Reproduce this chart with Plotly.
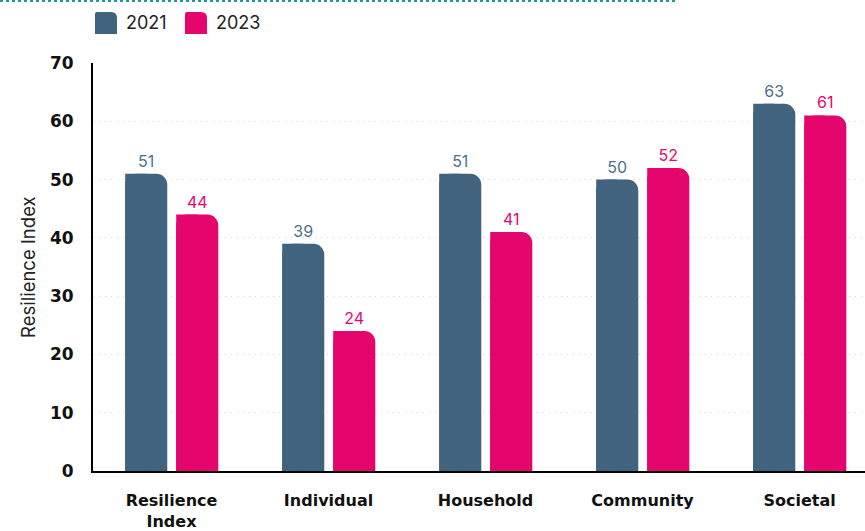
import plotly.graph_objects as go

# Resilience index by level, 2021 vs 2023
categories = ["Resilience<br>Index", "Individual", "Household", "Community", "Societal"]
values_2021 = [51, 39, 51, 50, 63]
values_2023 = [44, 24, 41, 52, 61]
series_names = ["2021", "2023"]
y_ticks = [0, 10, 20, 30, 40, 50, 60, 70]

BLUE = "#41637d"
BLUE_TEXT = "#4d6f8c"
PINK = "#e4066d"
FONT = "Inter, 'Noto Sans', sans-serif"
BOLD_FONT = "'DejaVu Sans', sans-serif"

BAR_W = 0.268
OFFSETS = [-0.295, 0.03]

fig = go.Figure()

for vals, name, color, tcolor, off in [
    (values_2021, series_names[0], BLUE, BLUE_TEXT, OFFSETS[0]),
    (values_2023, series_names[1], PINK, PINK, OFFSETS[1]),
]:
    # main bar with rounded top corners and value label
    fig.add_trace(go.Bar(
        x=categories, y=vals, name=name,
        width=BAR_W, offset=off,
        marker=dict(color=color, cornerradius=11, line=dict(width=0)),
        text=[str(v) for v in vals], textposition="outside",
        textfont=dict(color=tcolor, size=16, family=FONT),
        cliponaxis=False, showlegend=False,
    ))
    # square left half so only the top-right corner stays rounded
    fig.add_trace(go.Bar(
        x=categories, y=vals, name=name,
        width=BAR_W / 2, offset=off,
        marker=dict(color=color, cornerradius=0, line=dict(width=0)),
        showlegend=False, hoverinfo="skip",
    ))

shapes = []
annotations = []

def ypx(p):
    # convert a pixel row to paper y (plot spans rows 63..471)
    return (471 - p) / 408

def xpx(p):
    return (p - 93) / 772

# legend swatches and labels above the plot
for i, (name, color) in enumerate(zip(series_names, [BLUE, PINK])):
    x0 = 95 + i * 90
    x1 = x0 + 22
    y0, y1 = 12, 34
    r = 6
    path = (
        f"M {xpx(x0)},{ypx(y1)} L {xpx(x1)},{ypx(y1)} L {xpx(x1)},{ypx(y0 + r)} "
        f"Q {xpx(x1)},{ypx(y0)} {xpx(x1 - r)},{ypx(y0)} L {xpx(x0 + 2)},{ypx(y0)} "
        f"Q {xpx(x0)},{ypx(y0)} {xpx(x0)},{ypx(y0 + 2)} Z"
    )
    shapes.append(dict(type="path", path=path, xref="paper", yref="paper",
                       fillcolor=color, line=dict(width=0)))
    annotations.append(dict(x=xpx(x1 + 7), y=ypx(23), xref="paper", yref="paper",
                            text=name, showarrow=False, xanchor="left", yanchor="middle",
                            font=dict(size=18, color="#222222", family=FONT)))

# dotted teal rule across the top
shapes.append(dict(type="line", xref="paper", yref="paper",
                   x0=xpx(0), x1=xpx(677), y0=ypx(1), y1=ypx(1),
                   line=dict(color="#1c9aa0", width=2, dash="dot")))

annotations.append(dict(x=xpx(28), y=0.5, xref="paper", yref="paper",
                        xanchor="center", yanchor="middle",
                        text="Resilience Index", textangle=-90, showarrow=False,
                        font=dict(size=18.5, color="#222222", family=FONT)))

fig.update_layout(
    width=865, height=531,
    margin=dict(l=93, r=0, t=63, b=60),
    barmode="overlay",
    plot_bgcolor="white", paper_bgcolor="white",
    font=dict(family=FONT, color="#111111"),
    shapes=shapes, annotations=annotations,
    showlegend=False,
)
fig.update_xaxes(
    range=[-0.5, 4.417], showgrid=False,
    showline=True, linecolor="#000000", linewidth=2,
    ticks="", ticklabelstandoff=14,
    tickfont=dict(size=16, weight="bold", color="#111111", family=BOLD_FONT),
)
fig.update_yaxes(
    range=[0, 70], tickvals=y_ticks,
    showgrid=True, gridcolor="#d4d4d4", griddash="1px,5px", gridwidth=1,
    showline=True, linecolor="#000000", linewidth=2,
    zeroline=False, ticks="", ticklabelstandoff=14,
    tickfont=dict(size=17, weight="bold", color="#111111", family=BOLD_FONT),
)

fig.write_html("out.html")
